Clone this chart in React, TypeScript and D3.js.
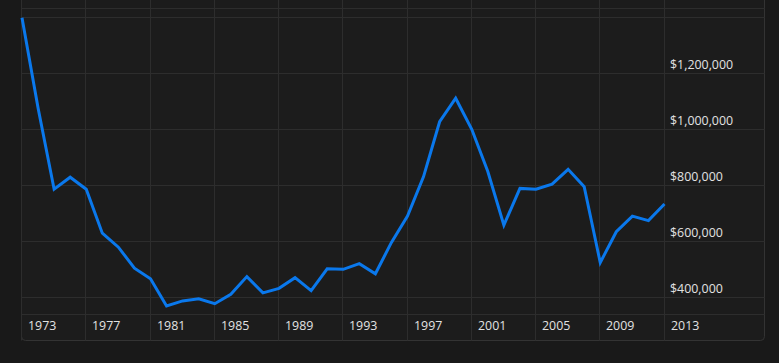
import React from 'react';
import {scaleLinear, line, range, format} from 'd3';

// yearly values
const years = range(1973, 2014);
const values = [
  1398000, 1076000, 786000, 829000, 786000, 629000, 579000, 504000, 466000, 369000,
  387000, 395000, 377000, 411000, 474000, 416000, 432000, 470000, 424000, 502000,
  500000, 520000, 484000, 596000, 690000, 831000, 1027000, 1111000, 1000000, 849000,
  658000, 789000, 786000, 804000, 857000, 795000, 524000, 634000, 690000, 674000,
  733000,
];
const yearTicks = range(1973, 2014, 4);
const valueTicks = [400000, 600000, 800000, 1000000, 1200000, 1400000];

const W = 779;
const H = 363;

export default function App() {
  const x = scaleLinear().domain([1973, 2013]).range([22, 664.5]);
  const y = scaleLinear().domain([400000, 1200000]).range([297.3, 73.3]);
  const fmt = format('$,');

  const path = line<number>()
    .x((d, i) => x(years[i]))
    .y(d => y(d))(values);

  const left = 21.5;
  const right = 764.5;
  const bottom = 340.5;
  const axisY = 314.5;

  return (
    <div style={{position: 'fixed', left: 0, top: 0, width: W, height: H, background: '#191919'}}>
      <svg width={W} height={H} style={{display: 'block', fontFamily: '"Open Sans", sans-serif'}}>
        <rect x={left} y={-10} width={right - left} height={bottom + 10} rx={4} fill="#1c1c1c" stroke="#333" strokeWidth={1} />

        {/* horizontal grid */}
        <line x1={left} x2={right} y1={8.5} y2={8.5} stroke="#2d2d2d" />
        {valueTicks.map(v => (
          <line key={v} x1={left} x2={right} y1={Math.round(y(v)) + 0.5} y2={Math.round(y(v)) + 0.5} stroke="#2d2d2d" />
        ))}
        <line x1={left} x2={right} y1={axisY} y2={axisY} stroke="#2d2d2d" />

        {/* vertical grid */}
        {yearTicks.map(t => (
          <line key={t} x1={Math.round(x(t)) - 0.5} x2={Math.round(x(t)) - 0.5} y1={-10} y2={bottom} stroke="#2d2d2d" />
        ))}

        {/* value labels */}
        {valueTicks.filter(v => v < 1400000).map(v => (
          <text key={v} x={670} y={y(v) - 4} fill="#e2e2e2" fontSize={12.4}>{fmt(v)}</text>
        ))}

        {/* year labels */}
        {yearTicks.map(t => (
          <text key={t} x={Math.round(x(t)) + 6} y={330} fill="#e2e2e2" fontSize={12.4}>{t}</text>
        ))}

        <path d={path ?? ''} fill="none" stroke="#0a78ec" strokeWidth={3} strokeLinejoin="miter" />
      </svg>
    </div>
  );
}
